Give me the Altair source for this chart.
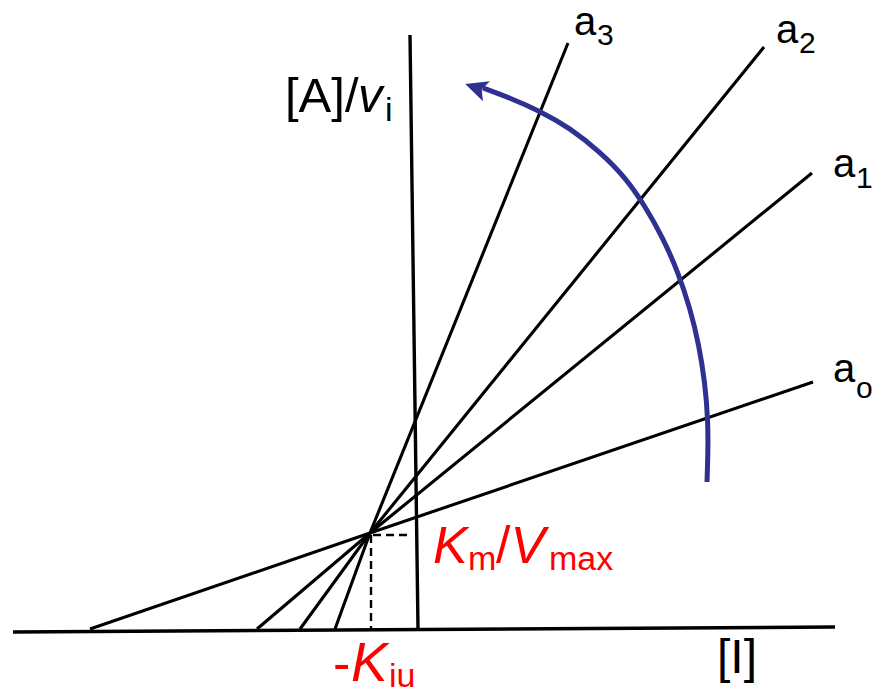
import altair as alt
import pandas as pd

# Cornish-Bowden plot of [A]/v_i against [I] for uncompetitive inhibition.
# Diagram units: origin where the two axes cross.
X_DOMAIN = [-4.18, 4.64]
Y_DOMAIN = [-0.65, 6.29]

# common intersection point (-K_iu, K_m/V_max)
cross_x = -0.48
cross_y = 0.96

# one straight line per substrate concentration a0 ... a3
line_names = ["a0", "a1", "a2", "a3"]
line_x_intercepts = [-3.28, -1.61, -1.18, -0.83]
line_end_x = [3.95, 3.94, 3.46, 1.50]
line_end_y = [2.47, 4.56, 5.82, 5.86]

# axes ([I] horizontal, [A]/v_i vertical)
x_axis_x = [-4.05, 4.17]
x_axis_y = [-0.03, 0.02]
y_axis_x = [0.0, -0.08]
y_axis_y = [0.0, 5.94]

# dashed guides from the intersection point
guide_x = [-0.45, -0.47]
guide_y = [0.94, 0.94]
guide_x2 = [-0.08, -0.47]
guide_y2 = [0.94, 0.0]

# curved arrow showing increasing [A]
arc_x = [0.65, 0.92, 1.22, 1.52, 1.82, 2.07, 2.27, 2.45, 2.60, 2.72, 2.81, 2.87, 2.90, 2.90, 2.89]
arc_y = [5.41, 5.31, 5.18, 5.01, 4.77, 4.52, 4.23, 3.91, 3.57, 3.21, 2.84, 2.46, 2.09, 1.77, 1.47]
head_x = [0.59]
head_y = [5.41]

# text pieces (baseline-left anchored)
label_text = ["[A]/", "v", "i",
              "a", "3", "a", "2", "a", "1", "a", "o",
              "[I]",
              "K", "m", "/", "V", "max",
              "-", "K", "iu"]
label_x = [-1.33, -0.60, -0.33,
           1.56, 1.79, 3.58, 3.81, 4.15, 4.38, 4.15, 4.38,
           2.99,
           0.15, 0.50, 0.78, 0.925, 1.31,
           -0.85, -0.67, -0.29]
label_y = [5.17, 5.17, 5.08,
           5.94, 5.84, 5.86, 5.76, 4.52, 4.41, 2.47, 2.31,
           -0.44,
           0.66, 0.59, 0.66, 0.66, 0.59,
           -0.52, -0.52, -0.58]
label_size = [49, 49, 34,
              40, 30, 40, 30, 40, 30, 40, 30,
              48,
              52, 34, 52, 52, 34,
              52, 55, 34]
label_italic = [False, True, False,
                False, False, False, False, False, False, False, False,
                False,
                True, False, False, True, False,
                False, True, False]
label_color = ["black"] * 12 + ["#ff0000"] * 8

FONT = "Liberation Sans"
BLUE = "#2e3192"

xs = alt.Scale(domain=X_DOMAIN, nice=False, zero=False)
ys = alt.Scale(domain=Y_DOMAIN, nice=False, zero=False)


def X(field="x"):
    return alt.X(f"{field}:Q", scale=xs, axis=None)


def Y(field="y"):
    return alt.Y(f"{field}:Q", scale=ys, axis=None)


# lines through the common point
rows = []
for name, x0, xe, ye in zip(line_names, line_x_intercepts, line_end_x, line_end_y):
    rows += [
        {"line": name, "i": 0, "x": x0, "y": 0.0},
        {"line": name, "i": 1, "x": cross_x, "y": cross_y},
        {"line": name, "i": 2, "x": xe, "y": ye},
    ]
lines = alt.Chart(pd.DataFrame(rows)).mark_line(
    color="black", strokeWidth=3.1, strokeCap="butt", strokeJoin="round"
).encode(x=X(), y=Y(), detail="line:N", order="i:Q")

axes_df = pd.DataFrame({
    "x": [x_axis_x[0], y_axis_x[0]], "y": [x_axis_y[0], y_axis_y[0]],
    "x2": [x_axis_x[1], y_axis_x[1]], "y2": [x_axis_y[1], y_axis_y[1]],
})
axes = alt.Chart(axes_df).mark_rule(color="black", strokeWidth=3.4).encode(
    x=X(), y=Y(), x2="x2:Q", y2="y2:Q"
)

guides = alt.Chart(pd.DataFrame({"x": guide_x, "y": guide_y, "x2": guide_x2, "y2": guide_y2})).mark_rule(
    color="black", strokeWidth=2.4, strokeDash=[8, 5]
).encode(x=X(), y=Y(), x2="x2:Q", y2="y2:Q")

arc = alt.Chart(pd.DataFrame({"x": arc_x, "y": arc_y, "i": range(len(arc_x))})).mark_line(
    color=BLUE, strokeWidth=5, interpolate="basis"
).encode(x=X(), y=Y(), order="i:Q")

head = alt.Chart(pd.DataFrame({"x": head_x, "y": head_y})).mark_point(
    shape="M0,-1L0.85,0.8L0,0.4L-0.85,0.8Z",
    filled=True, size=620, angle=289, color=BLUE, opacity=1, strokeWidth=0,
).encode(x=X(), y=Y())

layers = [axes, guides, lines, arc, head]
for t, x, y, s, it, c in zip(label_text, label_x, label_y, label_size, label_italic, label_color):
    df = pd.DataFrame({"x": [x], "y": [y], "t": [t]})
    layers.append(
        alt.Chart(df).mark_text(
            align="left", baseline="alphabetic", font=FONT, fontSize=s,
            fontStyle="italic" if it else "normal", color=c,
        ).encode(x=X(), y=Y(), text="t:N")
    )

chart = alt.layer(*layers).properties(
    width=882, height=694, padding=0, autosize="none", background="white"
).configure_view(stroke=None)

chart.save("out.html", embed_options={"renderer": "svg", "actions": False})
